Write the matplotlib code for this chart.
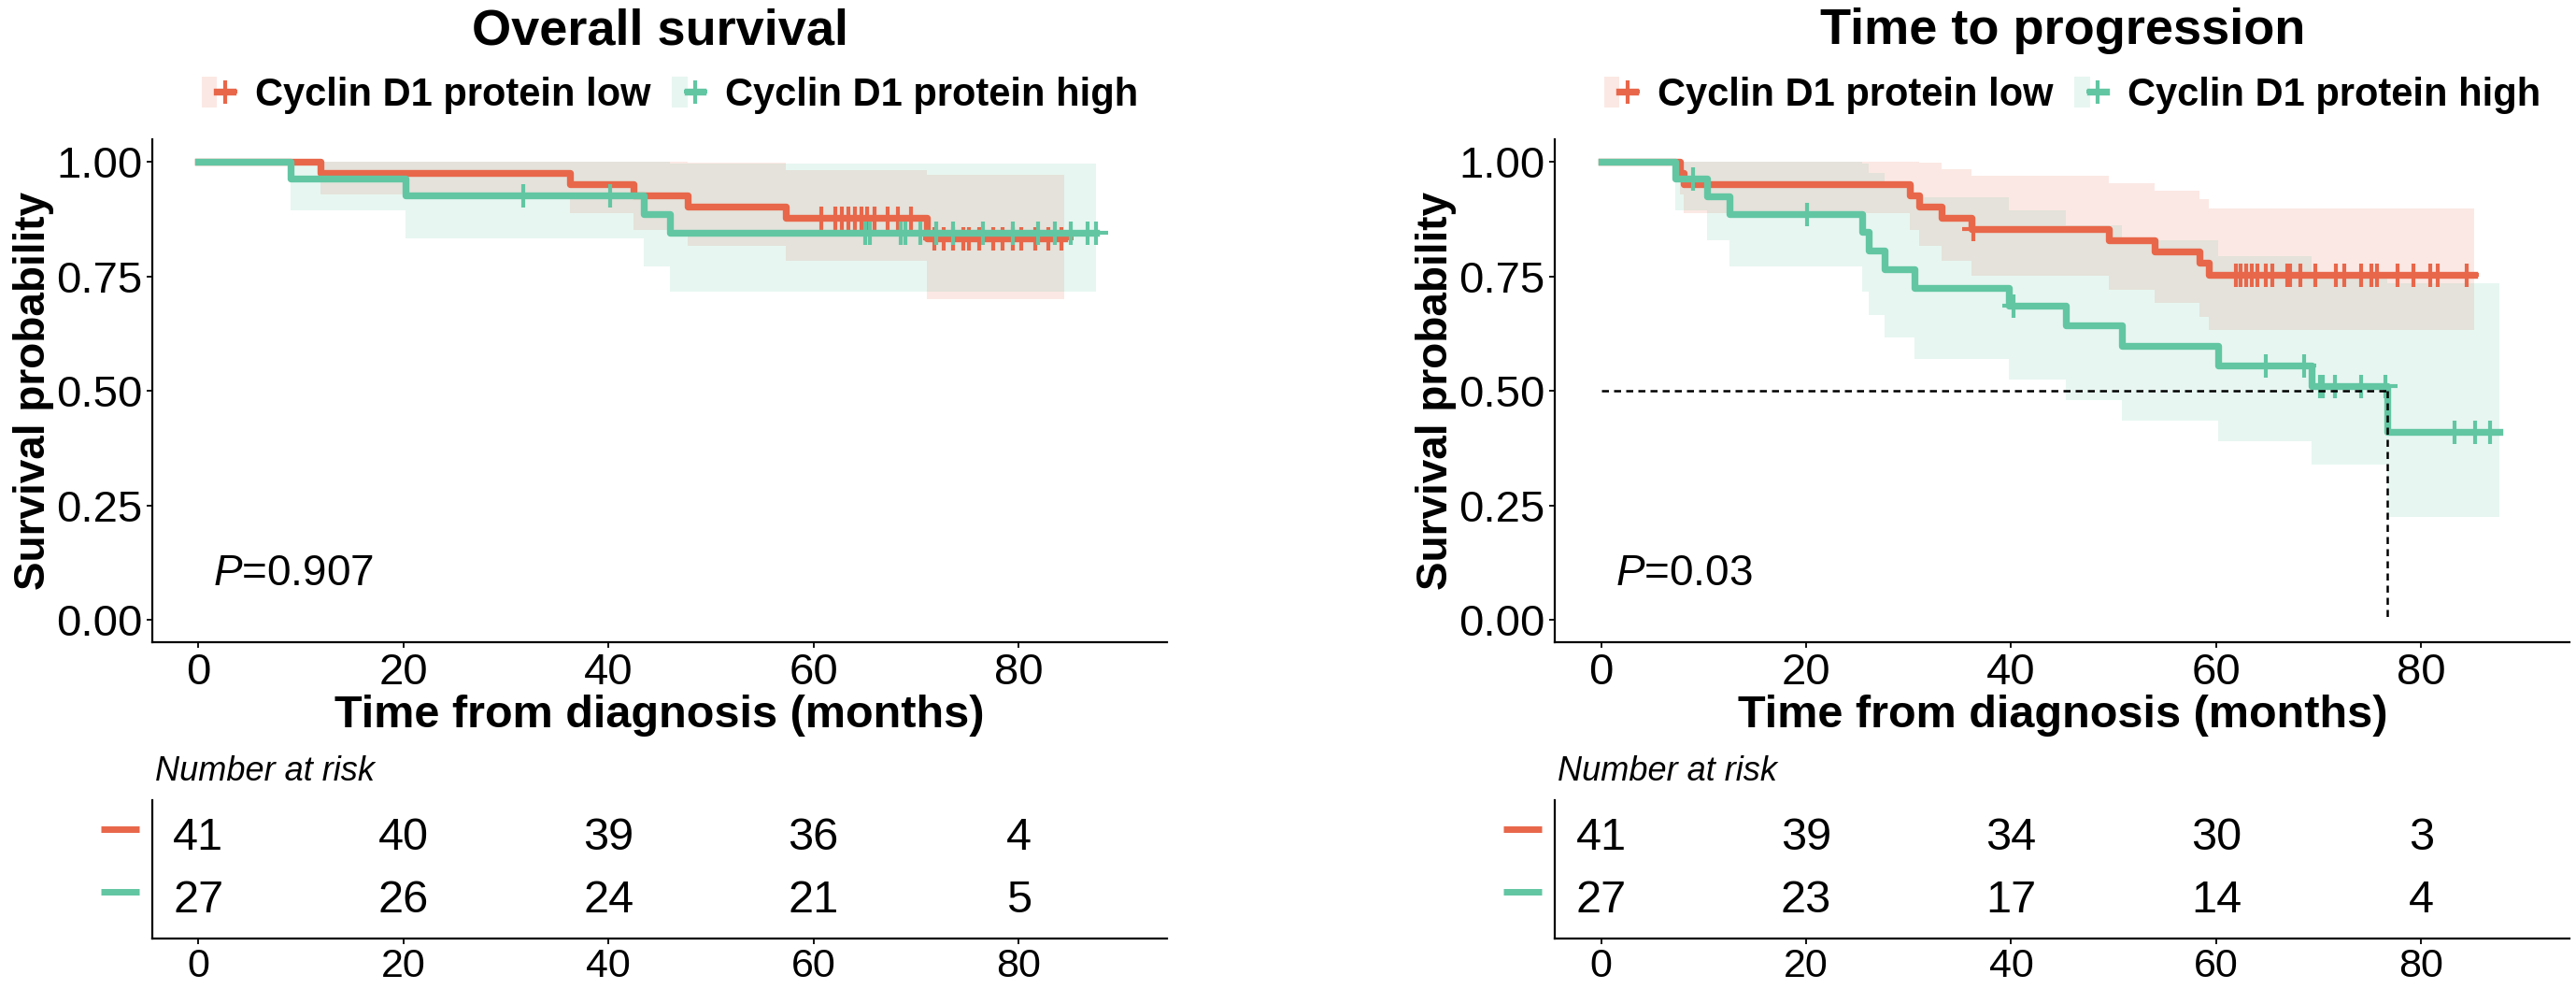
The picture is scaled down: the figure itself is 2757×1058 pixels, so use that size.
import numpy as np
import matplotlib
matplotlib.use("Agg")
import matplotlib.pyplot as plt
from matplotlib.lines import Line2D
from matplotlib.patches import Patch
from matplotlib.legend_handler import HandlerTuple
import matplotlib.transforms as mtransforms

plt.rcParams['font.family'] = ['Liberation Sans', 'DejaVu Sans']
plt.rcParams['mathtext.fontset'] = 'custom'
plt.rcParams['mathtext.it'] = 'Liberation Sans:italic'
plt.rcParams['mathtext.rm'] = 'Liberation Sans'

RED = '#E8674A'
GREEN = '#62C6A3'
labels = ["Cyclin D1 protein low", "Cyclin D1 protein high"]

# overall survival, low group
os_low_t = [0, 11.9, 36.2, 42.4, 47.7, 57.3, 71.1]
os_low_s = [1.0, 0.976, 0.951, 0.927, 0.902, 0.878, 0.833]
os_low_lo = [1.0, 0.929, 0.887, 0.851, 0.816, 0.783, 0.701]
os_low_hi = [1.0, 1.0, 1.0, 1.0, 0.998, 0.982, 0.972]
os_low_end = 84.5
os_low_cens = [60.8, 62.1, 62.8, 63.4, 64.0, 64.7, 65.2, 66.0, 67.2, 68.2, 69.5,
               71.8, 72.7, 73.6, 74.6, 75.2, 76.2, 77.5, 78.4, 79.4, 80.3, 81.6, 82.9, 84.2]

# overall survival, high group
os_high_t = [0, 9.0, 20.2, 43.4, 46.0]
os_high_s = [1.0, 0.963, 0.926, 0.886, 0.845]
os_high_lo = [1.0, 0.894, 0.832, 0.772, 0.716]
os_high_hi = [1.0, 1.0, 1.0, 1.0, 0.995]
os_high_end = 87.6
os_high_cens = [31.7, 40.2, 65.0, 65.5, 68.5, 69.0, 70.4, 72.0, 73.6, 76.5, 79.4,
                81.9, 83.5, 85.1, 86.7, 87.6]

# time to progression, low group
ttp_low_t = [0, 7.7, 8.1, 30.1, 31.0, 33.2, 36.1, 49.5, 54.0, 58.4, 59.3]
ttp_low_s = [1.0, 0.976, 0.951, 0.927, 0.902, 0.878, 0.854, 0.829, 0.804, 0.779, 0.754]
ttp_low_lo = [1.0, 0.929, 0.887, 0.851, 0.816, 0.783, 0.752, 0.721, 0.691, 0.661, 0.632]
ttp_low_hi = [1.0, 1.0, 1.0, 1.0, 0.998, 0.984, 0.970, 0.953, 0.936, 0.918, 0.898]
ttp_low_end = 85.2
ttp_low_cens = [36.3, 61.9, 62.4, 62.9, 63.5, 64.0, 64.8, 65.5, 66.9, 67.2, 68.2, 69.7,
                71.7, 72.5, 74.1, 75.1, 75.7, 77.7, 79.2, 80.9, 81.6, 84.4]

# time to progression, high group
ttp_high_t = [0, 7.2, 10.3, 12.5, 25.5, 26.1, 27.7, 30.6, 39.8, 45.3, 50.8, 60.2, 69.3, 76.7]
ttp_high_s = [1.0, 0.963, 0.924, 0.886, 0.846, 0.806, 0.765, 0.725, 0.685, 0.642, 0.599,
              0.556, 0.510, 0.411]
ttp_high_lo = [1.0, 0.894, 0.829, 0.772, 0.717, 0.666, 0.617, 0.570, 0.525, 0.479, 0.434,
               0.390, 0.339, 0.224]
ttp_high_hi = [1.0, 1.0, 1.0, 1.0, 0.997, 0.975, 0.949, 0.922, 0.893, 0.861, 0.828,
               0.793, 0.757, 0.735]
ttp_high_end = 87.6
ttp_high_cens = [9.0, 20.1, 40.2, 64.8, 68.6, 70.1, 70.4, 71.6, 74.1, 76.5, 83.3, 85.3, 86.7]
ttp_median = 76.7

# number at risk
risk_times = [0, 20, 40, 60, 80]
os_risk_low = [41, 40, 39, 36, 4]
os_risk_high = [27, 26, 24, 21, 5]
ttp_risk_low = [41, 39, 34, 30, 3]
ttp_risk_high = [27, 23, 17, 14, 4]

os_p = "0.907"
ttp_p = "0.03"

LW = 5.3
MS = 18
MEW = 3.0


def step_value(t, s, x):
    idx = np.searchsorted(np.asarray(t), np.asarray(x), side='right') - 1
    return np.asarray(s)[idx]


def draw_curve(ax, t, s, lo, hi, end, cens, color):
    tt = np.append(t, end)
    ax.fill_between(tt, np.append(lo, lo[-1]), np.append(hi, hi[-1]), step='post',
                    color=color, alpha=0.15, lw=0)
    ax.step(tt, np.append(s, s[-1]), where='post', color=color, lw=LW)
    ax.plot(cens, step_value(t, s, cens), ls='none', marker='+', ms=MS, mew=MEW, color=color)


fig = plt.figure(figsize=(27.57, 10.58), dpi=100)

panels = [
    (0.0591, "Overall survival",
     [(os_low_t, os_low_s, os_low_lo, os_low_hi, os_low_end, os_low_cens, RED),
      (os_high_t, os_high_s, os_high_lo, os_high_hi, os_high_end, os_high_cens, GREEN)],
     os_risk_low, os_risk_high, os_p, None),
    (0.6036, "Time to progression",
     [(ttp_low_t, ttp_low_s, ttp_low_lo, ttp_low_hi, ttp_low_end, ttp_low_cens, RED),
      (ttp_high_t, ttp_high_s, ttp_high_lo, ttp_high_hi, ttp_high_end, ttp_high_cens, GREEN)],
     ttp_risk_low, ttp_risk_high, ttp_p, ttp_median),
]

W = 0.3940
for left, title, groups, r_low, r_high, pval, median in panels:
    ax = fig.add_axes([left, 0.3502, W, 0.5094])
    for g in groups:
        draw_curve(ax, *g)
    if median is not None:
        ax.plot([0, median], [0.5, 0.5], color='black', ls=(0, (3, 2.2)), lw=1.8)
        ax.plot([median, median], [0.5, 0], color='black', ls=(0, (3, 2.2)), lw=1.8)
    ax.set_xlim(-4.5, 94.5)
    ax.set_ylim(-0.05, 1.05)
    ax.set_xticks(risk_times)
    ax.set_yticks([0, 0.25, 0.5, 0.75, 1.0])
    ax.set_yticklabels(["%.2f" % v for v in [0, 0.25, 0.5, 0.75, 1.0]])
    ax.tick_params(labelsize=34, length=4, width=1.3)
    for side in ['top', 'right']:
        ax.spines[side].set_visible(False)
    for side in ['left', 'bottom']:
        ax.spines[side].set_linewidth(1.6)
    ax.set_xlabel("Time from diagnosis (months)", fontsize=35, fontweight='bold')
    ax.xaxis.set_label_coords(0.5, -0.144)
    ax.xaxis.label.set_va('center')
    ax.set_ylabel("Survival probability", fontsize=33, fontweight='bold')
    ax.yaxis.set_label_coords(-0.117, 0.5)
    ax.yaxis.label.set_va('center')
    ax.text(1.4, 0.10, r"$\mathit{P}$=" + pval, fontsize=33, ha='left', va='center')
    ax.text(0.5, 1.214, title, transform=ax.transAxes, ha='center', va='center',
            fontsize=39, fontweight='bold')

    handles = [(Patch(facecolor=c, alpha=0.15, lw=0),
                Line2D([], [], color=c, lw=LW, marker='+', ms=MS, mew=MEW))
               for c in [RED, GREEN]]
    ax.legend(handles, labels, handler_map={tuple: HandlerTuple(ndivide=None)},
              loc='center', bbox_to_anchor=(0.51, 1.086), ncol=2, frameon=False,
              prop={'weight': 'bold', 'size': 30}, handlelength=0.8, handleheight=0.85,
              handletextpad=0.57, columnspacing=0.55, borderpad=0, borderaxespad=0)

    # risk table
    rt = fig.add_axes([left, 0.051, W, 0.1399])
    rt.set_xlim(-4.5, 94.5)
    rt.set_ylim(0.4, 2.6)
    rt.set_yticks([])
    rt.set_xticks(risk_times)
    rt.tick_params(labelsize=31, length=4, width=1.3)
    for side in ['top', 'right']:
        rt.spines[side].set_visible(False)
    for side in ['left', 'bottom']:
        rt.spines[side].set_linewidth(1.6)
    for row, counts, c in [(2, r_low, RED), (1, r_high, GREEN)]:
        for t, n in zip(risk_times, counts):
            rt.text(t, row, str(n), fontsize=35, ha='center', va='center')
        trans = mtransforms.blended_transform_factory(rt.transAxes, rt.transData)
        rt.plot([-0.051, -0.013], [row + 0.14, row + 0.14], transform=trans,
                color=c, lw=5, clip_on=False, solid_capstyle='butt')
    fig.text(left + 0.0012, 0.2202, "Number at risk", fontsize=26, style='italic',
             ha='left', va='center')

fig.savefig("out.png", dpi=100)
